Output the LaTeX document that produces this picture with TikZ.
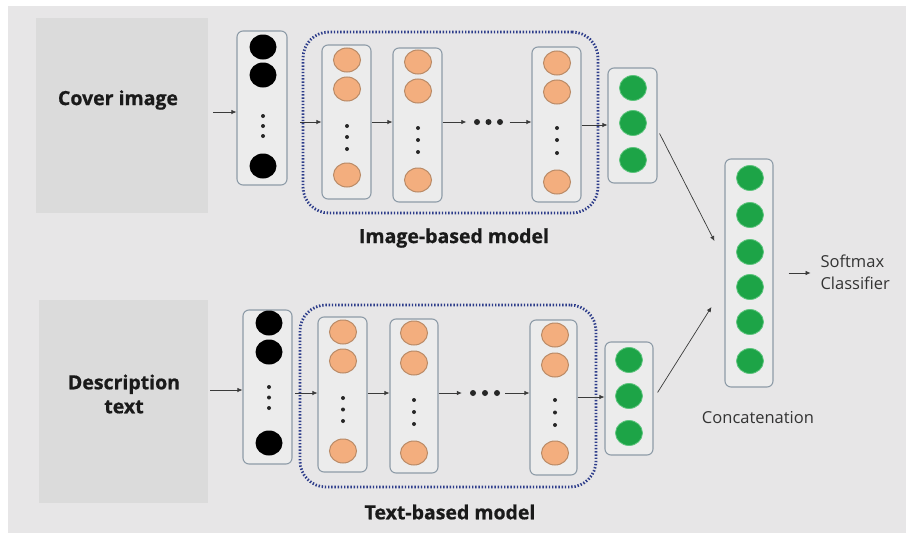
\documentclass[tikz,border=0pt]{standalone}
\usepackage{fontspec}
\setmainfont{Open Sans}
\newfontfamily\heavyfont{Open Sans}[BoldFeatures={FakeBold=0.7}]
\usetikzlibrary{shapes.geometric,arrows.meta,calc}
\definecolor{bg}{HTML}{E7E6E7}
\definecolor{boxgray}{HTML}{DBDBDB}
\definecolor{colfill}{HTML}{ECECEC}
\definecolor{coledge}{HTML}{8E9CA8}
\definecolor{orfill}{HTML}{F3AE7E}
\definecolor{oredge}{HTML}{B98A66}
\definecolor{grfill}{HTML}{1DA447}
\definecolor{gredge}{HTML}{5CC47C}
\definecolor{navy}{HTML}{2D3C8A}
\definecolor{arrowc}{HTML}{3A3A3A}
\definecolor{txt}{HTML}{1A1A1A}
\definecolor{txtgray}{HTML}{333333}
\tikzset{
  colbox/.style={draw=coledge, fill=colfill, line width=1.1pt, rounded corners=6pt, inner sep=0pt},
  blk/.style={ellipse, fill=black, draw=none, minimum width=27pt, minimum height=25pt, inner sep=0pt},
  org/.style={ellipse, fill=orfill, draw=oredge, line width=1pt, minimum width=27pt, minimum height=24pt, inner sep=0pt},
  grn/.style={ellipse, fill=grfill, draw=gredge, line width=0.8pt, minimum width=27pt, minimum height=25pt, inner sep=0pt},
  vdot/.style={circle, fill=black!85, draw=none, minimum size=4pt, inner sep=0pt},
  hdot/.style={circle, fill=black!85, draw=none, minimum size=6pt, inner sep=0pt},
  modelbox/.style={draw=navy, line width=2.8pt, dash pattern=on 1.4pt off 1.8pt, rounded corners=26pt, inner sep=0pt},
  conn/.style={draw=arrowc, line width=0.7pt, -{Latex[length=5pt,width=4.5pt]}},
  boldlbl/.style={font=\fontsize{19.5}{24}\selectfont\heavyfont\bfseries, text=txt},
  plainlbl/.style={font=\fontsize{16.5}{22}\selectfont, text=txtgray}
}
\begin{document}
\begin{tikzpicture}[x=1pt,y=-1pt]
\useasboundingbox (0,0) rectangle (906,533);
\fill[white] (0,0) rectangle (906,533);
\fill[bg] (8,6) rectangle (906,533);

% ---------- top branch ----------
\node[fill=boxgray, minimum width=172pt, minimum height=195pt, inner sep=0pt] (cover) at (122,115.5) {};
\node[boldlbl] (covert) at (118,100) {Cover image};

\node[colbox, minimum width=50pt, minimum height=154pt] (inp1) at (262,108) {};
\foreach \y [count=\i] in {47,75,166} \node[blk] (inp1c\i) at (263,\y) {};
\foreach \y [count=\i] in {116,126,136} \node[vdot] (inp1d\i) at (263,\y) {};

\node[modelbox, minimum width=295pt, minimum height=181pt] (mtop) at (450.5,122.5) {};

\node[colbox, minimum width=49pt, minimum height=154pt] (c1) at (346.5,122) {};
\foreach \y [count=\i] in {60,89,175} \node[org] (c1o\i) at (347,\y) {};
\foreach \y [count=\i] in {126,137,149} \node[vdot] (c1d\i) at (347,\y) {};

\node[colbox, minimum width=49pt, minimum height=154pt] (c2) at (417.5,125) {};
\foreach \y [count=\i] in {62,91,180} \node[org] (c2o\i) at (418,\y) {};
\foreach \y [count=\i] in {128,140,152} \node[vdot] (c2d\i) at (418,\y) {};

\node[minimum width=34pt, minimum height=8pt, inner sep=0pt] (ell1) at (488.5,122) {};
\foreach \x [count=\i] in {477,488.5,500} \node[hdot] (ell1d\i) at (\x,122) {};

\node[colbox, minimum width=49pt, minimum height=155pt] (c3) at (556.5,124.5) {};
\foreach \y [count=\i] in {63,92,182} \node[org] (c3o\i) at (557,\y) {};
\foreach \y [count=\i] in {128,140,153} \node[vdot] (c3d\i) at (557,\y) {};

\node[colbox, minimum width=49pt, minimum height=115pt] (g1) at (632.5,125.5) {};
\foreach \y [count=\i] in {88,123,160} \node[grn] (g1c\i) at (633,\y) {};

\node[boldlbl] (imgmodel) at (454,238) {Image-based model};

% ---------- bottom branch ----------
\node[fill=boxgray, minimum width=169pt, minimum height=203pt, inner sep=0pt] (desc) at (123.5,401.5) {};
\node[boldlbl, align=center] (desct) at (124,394) {Description\\text};

\node[colbox, minimum width=49pt, minimum height=154pt] (inp2) at (267.5,387) {};
\foreach \y [count=\i] in {323,352,443} \node[blk] (inp2c\i) at (269,\y) {};
\foreach \y [count=\i] in {387,397.5,408} \node[vdot] (inp2d\i) at (269,\y) {};

\node[modelbox, minimum width=296pt, minimum height=182pt] (mbot) at (448,396) {};

\node[colbox, minimum width=49pt, minimum height=155pt] (d1) at (342.5,394.5) {};
\foreach \y [count=\i] in {332,361,451} \node[org] (d1o\i) at (343,\y) {};
\foreach \y [count=\i] in {398,409.5,421} \node[vdot] (d1d\i) at (343,\y) {};

\node[colbox, minimum width=48pt, minimum height=154pt] (d2) at (414,396) {};
\foreach \y [count=\i] in {333,363,453} \node[org] (d2o\i) at (414,\y) {};
\foreach \y [count=\i] in {400,412,424} \node[vdot] (d2d\i) at (414,\y) {};

\node[minimum width=34pt, minimum height=8pt, inner sep=0pt] (ell2) at (485,393) {};
\foreach \x [count=\i] in {473,485,497} \node[hdot] (ell2d\i) at (\x,393) {};

\node[colbox, minimum width=47pt, minimum height=155pt] (d3) at (553.5,397.5) {};
\foreach \y [count=\i] in {335,365,453} \node[org] (d3o\i) at (555,\y) {};
\foreach \y [count=\i] in {400,412.5,425} \node[vdot] (d3d\i) at (555,\y) {};

\node[colbox, minimum width=48pt, minimum height=113pt] (g2) at (629,398.5) {};
\foreach \y [count=\i] in {360,396,433} \node[grn] (g2c\i) at (629,\y) {};

\node[boldlbl] (txtmodel) at (450,512) {Text-based model};

% ---------- concatenation ----------
\node[colbox, minimum width=48pt, minimum height=228pt] (cc) at (749,273) {};
\foreach \y [count=\i] in {178,215,252,287,322,361} \node[grn] (ccc\i) at (750,\y) {};
\node[plainlbl] (concat) at (758,418) {Concatenation};
\node[plainlbl, align=left, anchor=west] (softmax) at (817,272) {Softmax\\Classifier};

% ---------- connectors ----------
\coordinate (in1s) at (213,112);
\coordinate (in2s) at (210,390);
\coordinate (m1s) at (300,122);
\coordinate (m2s) at (295,393);

\draw[conn] (in1s) -- (inp1.west |- in1s);
\draw[conn] (m1s) -- (c1.west |- m1s);
\draw[conn] (c1.east |- m1s) -- (c2.west |- m1s);
\draw[conn] (c2.east |- m1s) -- ($(ell1.west)+(-5,0)$);
\draw[conn] ($(ell1.east)+(4,0)$) -- (c3.west |- m1s);
\draw[conn] (c3.east |- 0,125) -- (g1.west |- 0,125);

\draw[conn] (in2s) -- (inp2.west |- in2s);
\draw[conn] (m2s) -- (d1.west |- m2s);
\draw[conn] (d1.east |- m2s) -- (d2.west |- m2s);
\draw[conn] (d2.east |- m2s) -- ($(ell2.west)+(-6,0)$);
\draw[conn] ($(ell2.east)+(3,0)$) -- (d3.west |- m2s);
\draw[conn] (d3.east |- 0,397) -- (g2.west |- 0,397);

\draw[conn] ($(g1.east)+(2,8)$) -- ($(cc.west)+(-10,-32)$);
\draw[conn] ($(g2.east)+(4,-6)$) -- ($(cc.west)+(-13,34)$);
\draw[conn] ($(cc.east)+(15,0)$) -- ($(cc.east)+(37,0)$);
\end{tikzpicture}
\end{document}
